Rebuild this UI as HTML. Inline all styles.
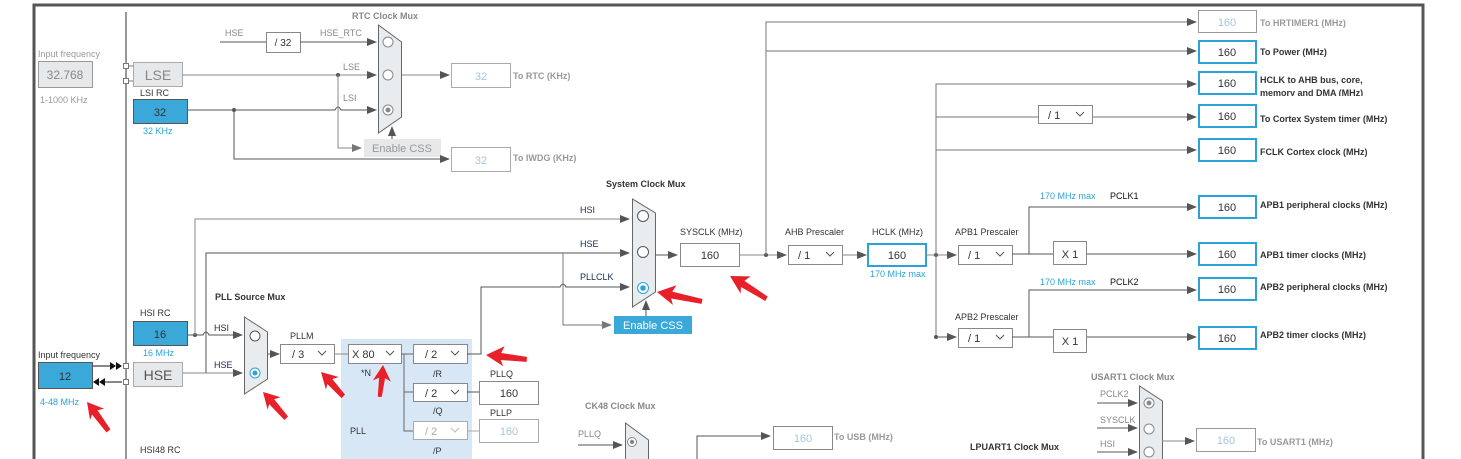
<!DOCTYPE html>
<html><head><meta charset="utf-8"><style>
html,body{margin:0;padding:0;background:#fff;width:1461px;height:459px;overflow:hidden}
svg{display:block}
text{font-family:"Liberation Sans",sans-serif}
</style></head><body>
<svg width="1461" height="459" viewBox="0 0 1461 459" xmlns="http://www.w3.org/2000/svg">
<defs>
<marker id="a" markerWidth="10" markerHeight="8" refX="9" refY="4" orient="auto" markerUnits="userSpaceOnUse"><path d="M0,0 L10,4 L0,8 Z" fill="#555"/></marker>
<marker id="ag" markerWidth="10" markerHeight="8" refX="9" refY="4" orient="auto" markerUnits="userSpaceOnUse"><path d="M0,0 L10,4 L0,8 Z" fill="#777"/></marker>
<clipPath id="c1"><rect x="1258" y="72" width="150" height="24"/></clipPath>
</defs>
<!-- frame -->
<rect x="34" y="5" width="1389" height="470" fill="none" stroke="#555" stroke-width="3"/>
<line x1="126" y1="12" x2="126" y2="459" stroke="#777" stroke-width="1.5"/>

<g font-size="9" fill="#333">
<!-- LSE area -->
<text x="38" y="57" fill="#999">Input frequency</text>
<rect x="38.5" y="61.5" width="54" height="26" fill="#e6e8ea" stroke="#999"/>
<text x="65" y="79" text-anchor="middle" font-size="12" fill="#888">32.768</text>
<text x="40" y="103" fill="#999">1-1000 KHz</text>
<rect x="123.5" y="63.5" width="5" height="5" fill="#fff" stroke="#777"/>
<rect x="123.5" y="78.5" width="5" height="5" fill="#fff" stroke="#777"/>
<line x1="128" y1="66" x2="133" y2="66" stroke="#777"/><line x1="128" y1="81" x2="133" y2="81" stroke="#777"/>
<rect x="133.5" y="62.5" width="49" height="24" fill="#e6e8ea" stroke="#aaa"/>
<text x="158" y="80" text-anchor="middle" font-size="14" fill="#888">LSE</text>
<text x="140" y="96">LSI RC</text>
<rect x="133.5" y="99.5" width="54" height="24" fill="#3aa8d9" stroke="#555"/>
<text x="160" y="116" text-anchor="middle" font-size="11" fill="#333">32</text>
<text x="143" y="134" fill="#2ba3d8">32 KHz</text>

<!-- RTC -->
<text x="352" y="19" fill="#888" font-weight="bold">RTC Clock Mux</text>
<text x="225" y="36" fill="#888">HSE</text>
<line x1="220" y1="42" x2="266" y2="42" stroke="#555"/>
<rect x="266.5" y="32.5" width="34" height="20" fill="#fff" stroke="#888"/>
<text x="283" y="46" text-anchor="middle" font-size="10">/ 32</text>
<text x="320" y="36" fill="#888">HSE_RTC</text>
<line x1="300" y1="42" x2="376" y2="42" stroke="#555" marker-end="url(#a)"/>
<line x1="182" y1="75" x2="376" y2="75" stroke="#888" marker-end="url(#a)"/>
<circle cx="338" cy="75" r="2" fill="#555"/>
<text x="343" y="70" fill="#888">LSE</text>
<path d="M187,110 L335,110 Q338,104 341,110 L376,110" fill="none" stroke="#555" marker-end="url(#a)"/>
<circle cx="234" cy="110" r="2" fill="#555"/>
<text x="343" y="101" fill="#888">LSI</text>
<path d="M338,75 L338,148 L361,148" fill="none" stroke="#888" marker-end="url(#ag)"/>
<rect x="364" y="139" width="77" height="18" fill="#e6e8ea"/>
<text x="402" y="152" text-anchor="middle" font-size="11" fill="#999">Enable CSS</text>
<line x1="392" y1="139" x2="392" y2="127" stroke="#555" marker-end="url(#a)"/>
<polygon points="378.5,25 401.5,42 401.5,117 378.5,133" fill="#e9ecef" stroke="#666"/>
<circle cx="388" cy="42" r="5" fill="#fff" stroke="#888"/>
<circle cx="388" cy="75" r="5" fill="#fff" stroke="#888"/>
<circle cx="388" cy="110" r="5" fill="#fff" stroke="#888"/><circle cx="388" cy="110" r="2.5" fill="#888"/>
<line x1="402" y1="75" x2="449" y2="75" stroke="#888" marker-end="url(#a)"/>
<rect x="451.5" y="63.5" width="59" height="24" fill="#fff" stroke="#aaa"/>
<text x="481" y="80" text-anchor="middle" font-size="11" fill="#a8c4dc">32</text>
<text x="513" y="79" fill="#999" font-weight="bold">To RTC (KHz)</text>
<path d="M234,110 L234,159 L449,159" fill="none" stroke="#555" marker-end="url(#a)"/>
<rect x="451.5" y="147.5" width="59" height="24" fill="#fff" stroke="#aaa"/>
<text x="481" y="164" text-anchor="middle" font-size="11" fill="#a8c4dc">32</text>
<text x="513" y="161" fill="#999" font-weight="bold">To IWDG (KHz)</text>

<!-- HSI / HSE -->
<text x="140" y="316">HSI RC</text>
<rect x="133.5" y="321.5" width="54" height="24" fill="#3aa8d9" stroke="#555"/>
<text x="160" y="338" text-anchor="middle" font-size="11">16</text>
<text x="143" y="356" fill="#2ba3d8">16 MHz</text>
<text x="38" y="358">Input frequency</text>
<rect x="38.5" y="362.5" width="54" height="26" fill="#3aa8d9" stroke="#555"/>
<text x="65" y="380" text-anchor="middle" font-size="11">12</text>
<text x="40" y="405" fill="#2ba3d8">4-48 MHz</text>
<line x1="93" y1="366" x2="112" y2="366" stroke="#111"/>
<path d="M110,362 L116,366 L110,370Z M116,362 L122,366 L116,370Z" fill="#111"/>
<line x1="100" y1="382" x2="122" y2="382" stroke="#111"/>
<path d="M99,382 L105,378 L105,386Z M93,382 L99,378 L99,386Z" fill="#111"/>
<rect x="123.5" y="363.5" width="5" height="5" fill="#fff" stroke="#777"/>
<rect x="123.5" y="379.5" width="5" height="5" fill="#fff" stroke="#777"/>
<rect x="133.5" y="362.5" width="49" height="24" fill="#e6e8ea" stroke="#aaa"/>
<text x="158" y="380" text-anchor="middle" font-size="14" fill="#555">HSE</text>
<text x="140" y="453">HSI48 RC</text>

<!-- HSI line to sysmux -->
<path d="M187,335 L203,335 Q206,329 209,335 L242,335" fill="none" stroke="#555" marker-end="url(#a)"/>
<circle cx="195" cy="335" r="2" fill="#555"/>
<path d="M195,335 L195,219 L629,219" fill="none" stroke="#888" marker-end="url(#a)"/>
<text x="580" y="213" fill="#1a2a4a">HSI</text>
<path d="M183,373 L242,373" fill="none" stroke="#888" marker-end="url(#a)"/>
<path d="M206,373 L206,253 L629,253" fill="none" stroke="#555" marker-end="url(#a)"/>
<text x="580" y="247" fill="#1a2a4a">HSE</text>
<text x="214" y="331" fill="#1a2a4a">HSI</text>
<text x="214" y="368" fill="#1a2a4a">HSE</text>
<text x="215" y="300" font-weight="bold">PLL  Source Mux</text>
<polygon points="244.5,317 267.5,332 267.5,379 244.5,394" fill="#e9ecef" stroke="#666"/>
<circle cx="255" cy="336" r="5" fill="#fff" stroke="#555"/>
<circle cx="255" cy="373" r="5" fill="#fff" stroke="#2ba3d8"/><circle cx="255" cy="373" r="2.5" fill="#2ba3d8"/>
<line x1="268" y1="354" x2="279" y2="354" stroke="#555" marker-end="url(#a)"/>

<!-- PLL -->
<rect x="341" y="339" width="131" height="130" fill="#d8e7f5"/>
<text x="290" y="339">PLLM</text>
<rect x="280.5" y="344.5" width="54" height="19" fill="#fff" stroke="#888"/>
<text x="292" y="358" font-size="11">/ 3</text><path d="M318,351 L322,355 L326,351" fill="none" stroke="#555"/>
<line x1="334" y1="354" x2="348" y2="354" stroke="#888"/>
<rect x="348.5" y="344.5" width="53" height="19" fill="#fff" stroke="#888"/>
<text x="352" y="358" font-size="11">X 80</text><path d="M386,351 L390,355 L394,351" fill="none" stroke="#555"/>
<text x="361" y="376">*N</text>
<path d="M401,354 L413,354 M404,354 L404,431 L413,431 M404,392 L413,392" fill="none" stroke="#666"/>
<rect x="413.5" y="344.5" width="54" height="19" fill="#fff" stroke="#888"/>
<text x="425" y="358" font-size="11">/ 2</text><path d="M451,351 L455,355 L459,351" fill="none" stroke="#555"/>
<text x="433" y="377">/R</text>
<rect x="413.5" y="383.5" width="54" height="18" fill="#fff" stroke="#888"/>
<text x="425" y="397" font-size="11">/ 2</text><path d="M451,390 L455,394 L459,390" fill="none" stroke="#555"/>
<text x="433" y="414">/Q</text>
<rect x="413.5" y="421.5" width="54" height="18" fill="#fff" stroke="#aaa"/>
<text x="425" y="435" font-size="11" fill="#aaa">/ 2</text><path d="M451,428 L455,432 L459,428" fill="none" stroke="#bbb"/>
<text x="433" y="454">/P</text>
<text x="350" y="434">PLL</text>
<line x1="467" y1="392" x2="479" y2="392" stroke="#555"/>
<line x1="467" y1="431" x2="479" y2="431" stroke="#aaa"/>
<text x="490" y="377">PLLQ</text>
<rect x="479.5" y="381.5" width="59" height="23" fill="#fff" stroke="#888"/>
<text x="509" y="397" text-anchor="middle" font-size="11">160</text>
<text x="490" y="416">PLLP</text>
<rect x="479.5" y="419.5" width="59" height="23" fill="#fff" stroke="#aaa"/>
<text x="509" y="435" text-anchor="middle" font-size="11" fill="#a8c4dc">160</text>
<path d="M467,354 L481,354 L481,287 L560,287 Q563,281 566,287 L629,287" fill="none" stroke="#555" marker-end="url(#a)"/>
<text x="580" y="280" fill="#1a2a4a">PLLCLK</text>
<path d="M563,253 L563,325 L611,325" fill="none" stroke="#777" marker-end="url(#ag)"/>

<!-- system mux -->
<text x="606" y="187" font-weight="bold">System Clock Mux</text>
<polygon points="632.5,199 655.5,213 655.5,292 632.5,307" fill="#e9ecef" stroke="#666"/>
<circle cx="643" cy="216" r="5.5" fill="#fff" stroke="#555"/>
<circle cx="643" cy="252" r="5.5" fill="#fff" stroke="#555"/>
<circle cx="643" cy="288" r="5.5" fill="#fff" stroke="#2ba3d8"/><circle cx="643" cy="288" r="2.8" fill="#2ba3d8"/>
<rect x="614" y="316" width="78" height="18" fill="#3aa8d9"/>
<text x="653" y="329" text-anchor="middle" font-size="11" fill="#fff">Enable CSS</text>
<line x1="646" y1="316" x2="646" y2="301" stroke="#555" marker-end="url(#a)"/>
<line x1="656" y1="255" x2="677" y2="255" stroke="#555" marker-end="url(#a)"/>
<text x="680" y="235" fill="#333">SYSCLK (MHz)</text>
<rect x="680.5" y="243.5" width="59" height="23" fill="#fff" stroke="#888"/>
<text x="710" y="259" text-anchor="middle" font-size="11">160</text>

<!-- CK48 -->
<text x="585" y="409" fill="#888" font-weight="bold">CK48 Clock Mux</text>
<text x="578" y="437" fill="#888">PLLQ</text>
<line x1="578" y1="445" x2="622" y2="445" stroke="#555" marker-end="url(#a)"/>
<polygon points="625.5,423 648.5,440 648.5,470 625.5,470" fill="#e9ecef" stroke="#666"/>
<circle cx="632" cy="442" r="4.5" fill="#fff" stroke="#888"/><circle cx="632" cy="442" r="2.2" fill="#888"/>
<path d="M697,459 L697,436 L770,436" fill="none" stroke="#555" marker-end="url(#a)"/>
<rect x="773.5" y="426.5" width="59" height="23" fill="#fff" stroke="#888"/>
<text x="803" y="442" text-anchor="middle" font-size="11" fill="#a8c4dc">160</text>
<text x="834" y="440" fill="#999" font-weight="bold">To USB (MHz)</text>

<!-- AHB -->
<line x1="740" y1="255" x2="786" y2="255" stroke="#888" marker-end="url(#a)"/>
<circle cx="766" cy="255" r="2" fill="#555"/>
<path d="M766,255 L766,22 L1196,22 M766,51 L1196,51" fill="none" stroke="#777"/>
<line x1="1186" y1="22" x2="1196" y2="22" stroke="#555" marker-end="url(#a)"/>
<line x1="1186" y1="51" x2="1196" y2="51" stroke="#555" marker-end="url(#a)"/>
<text x="785" y="235">AHB Prescaler</text>
<rect x="788.5" y="245.5" width="54" height="19" fill="#fff" stroke="#888"/>
<text x="798" y="259" font-size="11">/ 1</text><path d="M826,252 L830,256 L834,252" fill="none" stroke="#555"/>
<line x1="842" y1="255" x2="866" y2="255" stroke="#888" marker-end="url(#a)"/>
<text x="872" y="235">HCLK (MHz)</text>
<rect x="868" y="244" width="58" height="22" fill="#fff" stroke="#2ba3d8" stroke-width="2"/>
<text x="897" y="259" text-anchor="middle" font-size="11">160</text>
<text x="870" y="277" fill="#2ba3d8">170 MHz max</text>
<line x1="926" y1="255" x2="956" y2="255" stroke="#888" marker-end="url(#a)"/>
<circle cx="936" cy="255" r="2" fill="#555"/>
<path d="M936,337 L936,84 L1196,84 M936,117 L1038,117 M1092,117 L1196,117 M936,150 L1196,150" fill="none" stroke="#777"/>
<line x1="1186" y1="84" x2="1196" y2="84" stroke="#555" marker-end="url(#a)"/>
<line x1="1186" y1="117" x2="1196" y2="117" stroke="#555" marker-end="url(#a)"/>
<line x1="1186" y1="150" x2="1196" y2="150" stroke="#555" marker-end="url(#a)"/>
<rect x="1038.5" y="105.5" width="54" height="18" fill="#fff" stroke="#888"/>
<text x="1048" y="119" font-size="11">/ 1</text><path d="M1076,112 L1080,116 L1084,112" fill="none" stroke="#555"/>
<line x1="936" y1="337" x2="956" y2="337" stroke="#555" marker-end="url(#a)"/>
<circle cx="936" cy="337" r="2" fill="#555"/>
<text x="955" y="235">APB1 Prescaler</text>
<rect x="958.5" y="245.5" width="54" height="19" fill="#fff" stroke="#888"/>
<text x="968" y="259" font-size="11">/ 1</text><path d="M996,252 L1000,256 L1004,252" fill="none" stroke="#555"/>
<text x="955" y="320">APB2 Prescaler</text>
<rect x="958.5" y="328.5" width="54" height="19" fill="#fff" stroke="#888"/>
<text x="968" y="342" font-size="11">/ 1</text><path d="M996,335 L1000,339 L1004,335" fill="none" stroke="#555"/>
<path d="M1012,254 L1053,254 M1029,254 L1029,207 L1196,207 M1086,254 L1196,254" fill="none" stroke="#555"/>
<path d="M1012,337 L1053,337 M1029,337 L1029,290 L1196,290 M1086,337 L1196,337" fill="none" stroke="#555"/>
<line x1="1186" y1="207" x2="1196" y2="207" stroke="#555" marker-end="url(#a)"/>
<line x1="1186" y1="254" x2="1196" y2="254" stroke="#555" marker-end="url(#a)"/>
<line x1="1186" y1="290" x2="1196" y2="290" stroke="#555" marker-end="url(#a)"/>
<line x1="1186" y1="337" x2="1196" y2="337" stroke="#555" marker-end="url(#a)"/>
<rect x="1053.5" y="241.5" width="33" height="23" fill="#fff" stroke="#888"/>
<text x="1070" y="258" text-anchor="middle" font-size="11">X 1</text>
<rect x="1053.5" y="329.5" width="33" height="23" fill="#fff" stroke="#888"/>
<text x="1070" y="345" text-anchor="middle" font-size="11">X 1</text>
<text x="1040" y="199" fill="#2ba3d8">170 MHz max</text><text x="1110" y="199" fill="#111">PCLK1</text>
<text x="1040" y="285" fill="#2ba3d8">170 MHz max</text><text x="1110" y="285" fill="#111">PCLK2</text>

<!-- right outputs -->
<rect x="1198.5" y="10.5" width="58" height="22" fill="#fff" stroke="#999"/>
<text x="1227" y="26" text-anchor="middle" font-size="11" fill="#a8c4dc">160</text>
<text x="1260" y="26" fill="#999" font-weight="bold">To HRTIMER1 (MHz)</text>
<g font-weight="bold">
<text x="1260" y="55">To Power (MHz)</text>
<g clip-path="url(#c1)"><text x="1260" y="83">HCLK to AHB bus, core,</text><text x="1260" y="96">memory and DMA (MHz)</text></g>
<text x="1260" y="122">To Cortex System timer (MHz)</text>
<text x="1260" y="155">FCLK Cortex clock (MHz)</text>
<text x="1260" y="208">APB1 peripheral clocks (MHz)</text>
<text x="1260" y="258">APB1 timer clocks (MHz)</text>
<text x="1260" y="290">APB2 peripheral clocks (MHz)</text>
<text x="1260" y="338">APB2 timer clocks (MHz)</text>
</g>
<g fill="#fff" stroke="#2ba3d8" stroke-width="2">
<rect x="1199" y="41" width="57" height="22"/><rect x="1199" y="72" width="57" height="22"/>
<rect x="1199" y="105" width="57" height="22"/><rect x="1199" y="139" width="57" height="22"/>
<rect x="1199" y="196" width="57" height="22"/><rect x="1199" y="243" width="57" height="22"/>
<rect x="1199" y="278" width="57" height="22"/><rect x="1199" y="327" width="57" height="22"/>
</g>
<g font-size="11" text-anchor="middle">
<text x="1227" y="56">160</text><text x="1227" y="87">160</text><text x="1227" y="120">160</text><text x="1227" y="154">160</text>
<text x="1227" y="211">160</text><text x="1227" y="258">160</text><text x="1227" y="293">160</text><text x="1227" y="342">160</text>
</g>

<!-- USART -->
<text x="1091" y="380" fill="#888" font-weight="bold">USART1 Clock Mux</text>
<text x="1100" y="397" fill="#888">PCLK2</text><text x="1100" y="423" fill="#888">SYSCLK</text><text x="1100" y="447" fill="#888">HSI</text>
<line x1="1097" y1="403" x2="1137" y2="403" stroke="#555" marker-end="url(#a)"/>
<line x1="1097" y1="428" x2="1137" y2="428" stroke="#555" marker-end="url(#a)"/>
<line x1="1097" y1="452" x2="1137" y2="452" stroke="#555" marker-end="url(#a)"/>
<polygon points="1139.5,386 1162.5,401 1162.5,470 1139.5,470" fill="#e9ecef" stroke="#666"/>
<circle cx="1149" cy="403" r="5" fill="#fff" stroke="#888"/><circle cx="1149" cy="403" r="2.5" fill="#888"/>
<circle cx="1149" cy="429" r="5" fill="#fff" stroke="#888"/>
<circle cx="1149" cy="452" r="5" fill="#fff" stroke="#888"/>
<line x1="1162" y1="441" x2="1194" y2="441" stroke="#888" marker-end="url(#a)"/>
<rect x="1196.5" y="428.5" width="59" height="23" fill="#fff" stroke="#999"/>
<text x="1226" y="444" text-anchor="middle" font-size="11" fill="#a8c4dc">160</text>
<text x="1257" y="445" fill="#999" font-weight="bold">To USART1 (MHz)</text>
<text x="970" y="450" font-weight="bold">LPUART1 Clock Mux</text>
</g>

<!-- red arrows -->
<g fill="#e8202a">
<path id="ra" d="M0,0 L17,-10 L14,-3 L1,-2.5 L1,3 L14,4 L17,10 Z" transform="scale(0)"/>
<g transform="translate(657,292) rotate(10)"><path d="M0,0 L18,-10 L15,-3 L46,-1 L46,4 L15,4 L18,10 Z"/></g>
<g transform="translate(730,276) rotate(30)"><path d="M0,0 L18,-10 L15,-3 L43,-1 L43,4 L15,4 L18,10 Z"/></g>
<g transform="translate(486,355) rotate(4)"><path d="M0,0 L18,-10 L15,-3 L41,-1 L41,4 L15,4 L18,10 Z"/></g>
<g transform="translate(383,365) rotate(94)"><path d="M0,0 L16,-9 L13,-3 L32,-1 L32,3 L13,3 L16,9 Z"/></g>
<g transform="translate(321,372) rotate(45)"><path d="M0,0 L16,-9 L13,-3 L33,-1 L33,4 L13,4 L16,9 Z"/></g>
<g transform="translate(263,392) rotate(46)"><path d="M0,0 L16,-9 L13,-3 L35,-1 L35,4 L13,4 L16,9 Z"/></g>
<g transform="translate(87,402) rotate(51)"><path d="M0,0 L16,-9 L13,-3 L36,-1 L36,4 L13,4 L16,9 Z"/></g>
</g>
</svg>
</body></html>
